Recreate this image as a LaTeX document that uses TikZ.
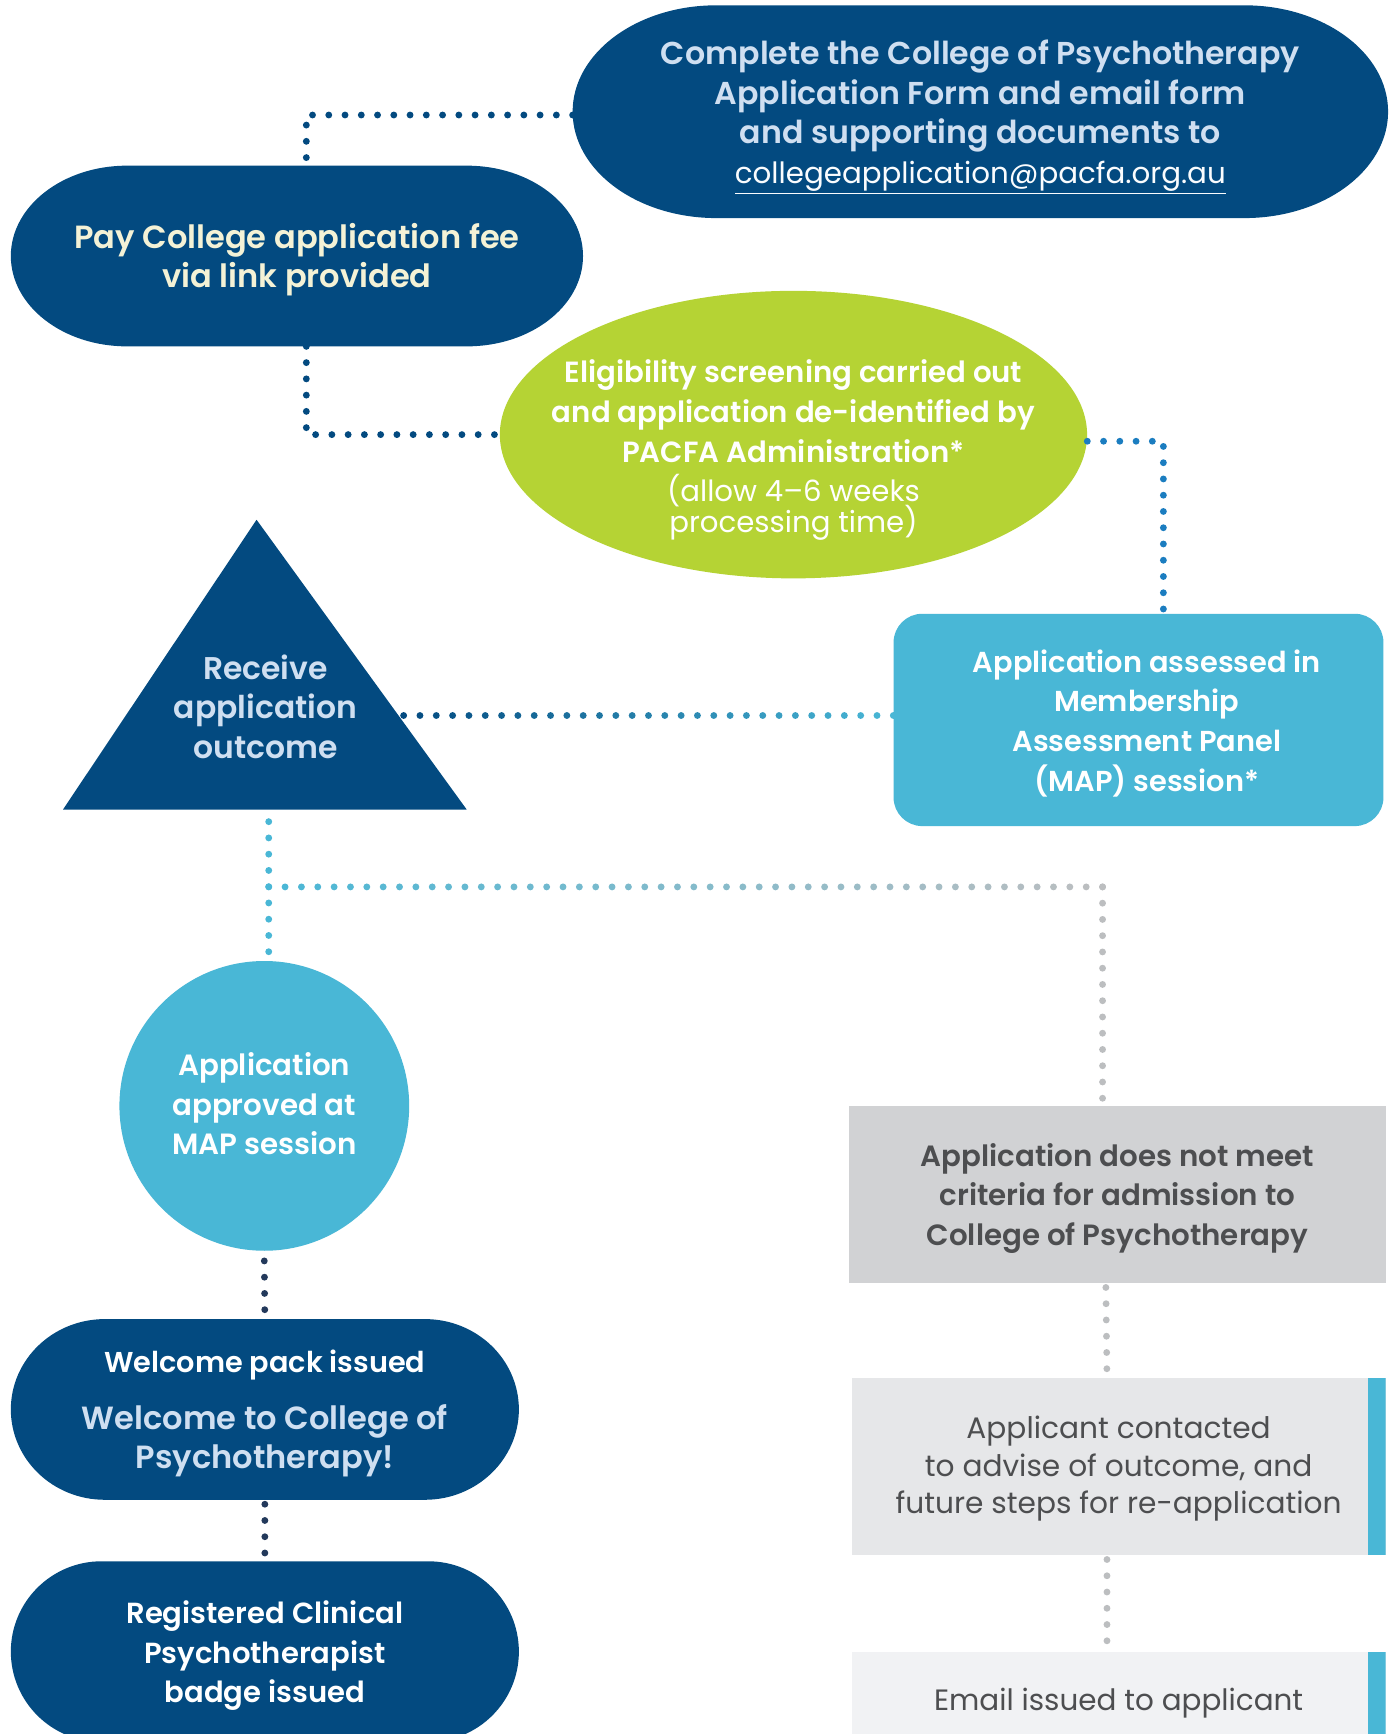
\documentclass[tikz,border=0pt]{standalone}
\usepackage{fontspec}
\setmainfont{Poppins}[BoldFont={Poppins SemiBold}]
\usetikzlibrary{calc,shapes.geometric,backgrounds}
\definecolor{dkblue}{HTML}{034A80}
\definecolor{ltblue}{HTML}{49B7D6}
\definecolor{midblue}{HTML}{1B7DC0}
\definecolor{lime}{HTML}{B5D334}
\definecolor{paletxt}{HTML}{CFDFF1}
\definecolor{cream}{HTML}{F4F2D6}
\definecolor{grayA}{HTML}{D1D2D4}
\definecolor{grayB}{HTML}{E6E7E9}
\definecolor{grayC}{HTML}{F1F2F4}
\definecolor{graytxt}{HTML}{4D4E50}
\definecolor{graydot}{HTML}{BCBEC0}
\definecolor{navy}{HTML}{23395B}
\newcommand\pillfill[3]{%
  \fill[#2] let \p1=(#1.north west), \p2=(#1.south east), \n1={(\y1-\y2)/2} in
    (\x1+#3,\y1) -- (\x2-#3,\y1)
    arc[start angle=90,end angle=-90,x radius=#3pt,y radius=\n1]
    -- (\x1+#3,\y2)
    arc[start angle=270,end angle=90,x radius=#3pt,y radius=\n1] -- cycle;}
\newcommand\gradots[5]{% start, end, colA, colB, n
  \foreach \i in {0,...,#5}{%
    \pgfmathsetmacro\tt{\i/#5}%
    \pgfmathtruncatemacro\pp{100-100*\i/#5}%
    \fill[#3!\pp!#4] ($(#1)!\tt!(#2)$) circle[radius=3.1pt];}}
\begin{document}
\begin{tikzpicture}[x=1pt,y=-1pt,
  dotline/.style={line width=6.2pt,line cap=round,dash pattern=on 0pt off 14.7pt},
  box/.style={inner sep=0pt,align=center,font=\bfseries\fontsize{29}{36}\selectfont},
  barbox/.style={box,path picture={\fill[ltblue] ([xshift=-16pt]path picture bounding box.north east) rectangle (path picture bounding box.south east);}}
]
\useasboundingbox (0,0) rectangle (1259,1568);
\clip (0,0) rectangle (1259,1568);

% nodes
\node[box,minimum width=737,minimum height=192,text=paletxt,text depth=-10pt,
  font=\bfseries\fontsize{28.6}{36}\selectfont] (apply) at (886.5,101)
  {Complete the College of Psychotherapy\\Application Form and email form\\and supporting documents to\\
   \textcolor{white!90!paletxt}{\mdseries\fontsize{26.5}{36}\selectfont\underline{collegeapplication@pacfa.org.au}}};
\node[box,minimum width=517,minimum height=163,text=cream,text depth=1pt] (pay) at (268.5,231.5)
  {Pay College application fee\\via link provided};
\node[ellipse,fill=lime,inner sep=0pt,minimum width=531,minimum height=260] (screen) at (717.5,393) {};
\node[box,text=white,font=\bfseries\fontsize{26.4}{36}\selectfont] (screentxt) at (717.5,407)
  {Eligibility screening carried out\\and application de-identified by\\PACFA Administration*\\[0pt]
   \mdseries\fontsize{26.4}{30}\selectfont (allow 4–6 weeks\\[-8pt]\mdseries\fontsize{26.4}{30}\selectfont processing time)};
\node[fill=ltblue,rounded corners=26,inner sep=0pt,minimum width=443,minimum height=192] (map) at (1029.5,651) {};
\node[box,text=white,font=\bfseries\fontsize{26.1}{36}\selectfont] (maptxt) at (1037,654)
  {Application assessed in\\Membership\\Assessment Panel\\(MAP) session*};
\fill[dkblue] (232,470) -- (422,732) -- (57,732) -- cycle;
\coordinate (triR) at (365,647);
\coordinate (triB) at (243,743);
\node[box,text=paletxt,font=\bfseries\fontsize{28.4}{36}\selectfont] (outcome) at (240,639) {Receive\\application\\outcome};
\coordinate (jn) at (243,802);
\node[circle,fill=ltblue,inner sep=0pt,minimum size=262,text=white,align=center,text depth=4pt,
  font=\bfseries\fontsize{26.5}{36}\selectfont] (approved) at (239,1000)
  {Application\\approved at\\MAP session};
\node[box,minimum width=459,minimum height=163,text=white,text depth=-3pt] (welcome) at (239.5,1274.5)
  {\fontsize{26}{36}\selectfont Welcome pack issued\\[15pt]
   \color{paletxt}\fontsize{29}{36}\selectfont Welcome to College of\\\color{paletxt}Psychotherapy!};
\node[box,minimum width=459,minimum height=163,text=white,text depth=-4pt,
  font=\bfseries\fontsize{26.3}{36}\selectfont] (badge) at (239.5,1493.5)
  {Registered Clinical\\Psychotherapist\\badge issued};
\node[box,fill=grayA,minimum width=485,minimum height=160,text=graytxt,text depth=-1pt,
  font=\bfseries\fontsize{26.5}{36}\selectfont] (nomeet) at (1010.5,1080)
  {Application does not meet\\criteria for admission to\\College of Psychotherapy};
\node[barbox,fill=grayB,minimum width=483,minimum height=160,text=graytxt,text depth=3pt,
  font=\mdseries\fontsize{26.8}{34}\selectfont] (contacted) at (1011.5,1326)
  {Applicant contacted\\to advise of outcome, and\\future steps for re-application};
\node[barbox,fill=grayC,minimum width=483,minimum height=86,text=graytxt,text depth=1pt,
  font=\mdseries\fontsize{26.6}{34}\selectfont] (email) at (1011.5,1537)
  {Email issued to applicant};

\begin{scope}[on background layer]
  \fill[white] (0,0) rectangle (1259,1568);
  \pillfill{apply}{dkblue}{130}
  \pillfill{pay}{dkblue}{105}
  \pillfill{welcome}{dkblue}{85}
  \pillfill{badge}{dkblue}{82}
\end{scope}

% connectors
\draw[dotline,dkblue] ([yshift=-3pt]apply.west) -| ([xshift=8.5pt]pay.north);
\draw[dotline,dkblue] ([xshift=8.5pt]pay.south) |- (screen.west);
\draw[dotline,midblue] ([yshift=-6pt]screen.east) -| ([xshift=22.5pt]map.north);
\coordinate (mapL) at (triR -| map.west);
\gradots{triR}{mapL}{dkblue}{ltblue}{30}
\draw[dotline,ltblue] (triB) -- (triB |- approved.north);
\coordinate (brk) at (997,802);
\gradots{jn}{brk}{ltblue}{graydot}{51}
\draw[dotline,graydot] (brk) -- ([xshift=-13.5pt]nomeet.north);
\draw[dotline,navy] ([yshift=-9pt]approved.south) -- (welcome.north);
\draw[dotline,navy] ([yshift=-4pt]welcome.south) -- (badge.north);
\draw[dotline,graydot] ([xshift=-10.5pt,yshift=-4pt]nomeet.south) -- ([xshift=-10.5pt]contacted.north);
\draw[dotline,graydot] ([xshift=-10.5pt,yshift=-4pt]contacted.south) -- ([xshift=-10.5pt]email.north);
\end{tikzpicture}
\end{document}
